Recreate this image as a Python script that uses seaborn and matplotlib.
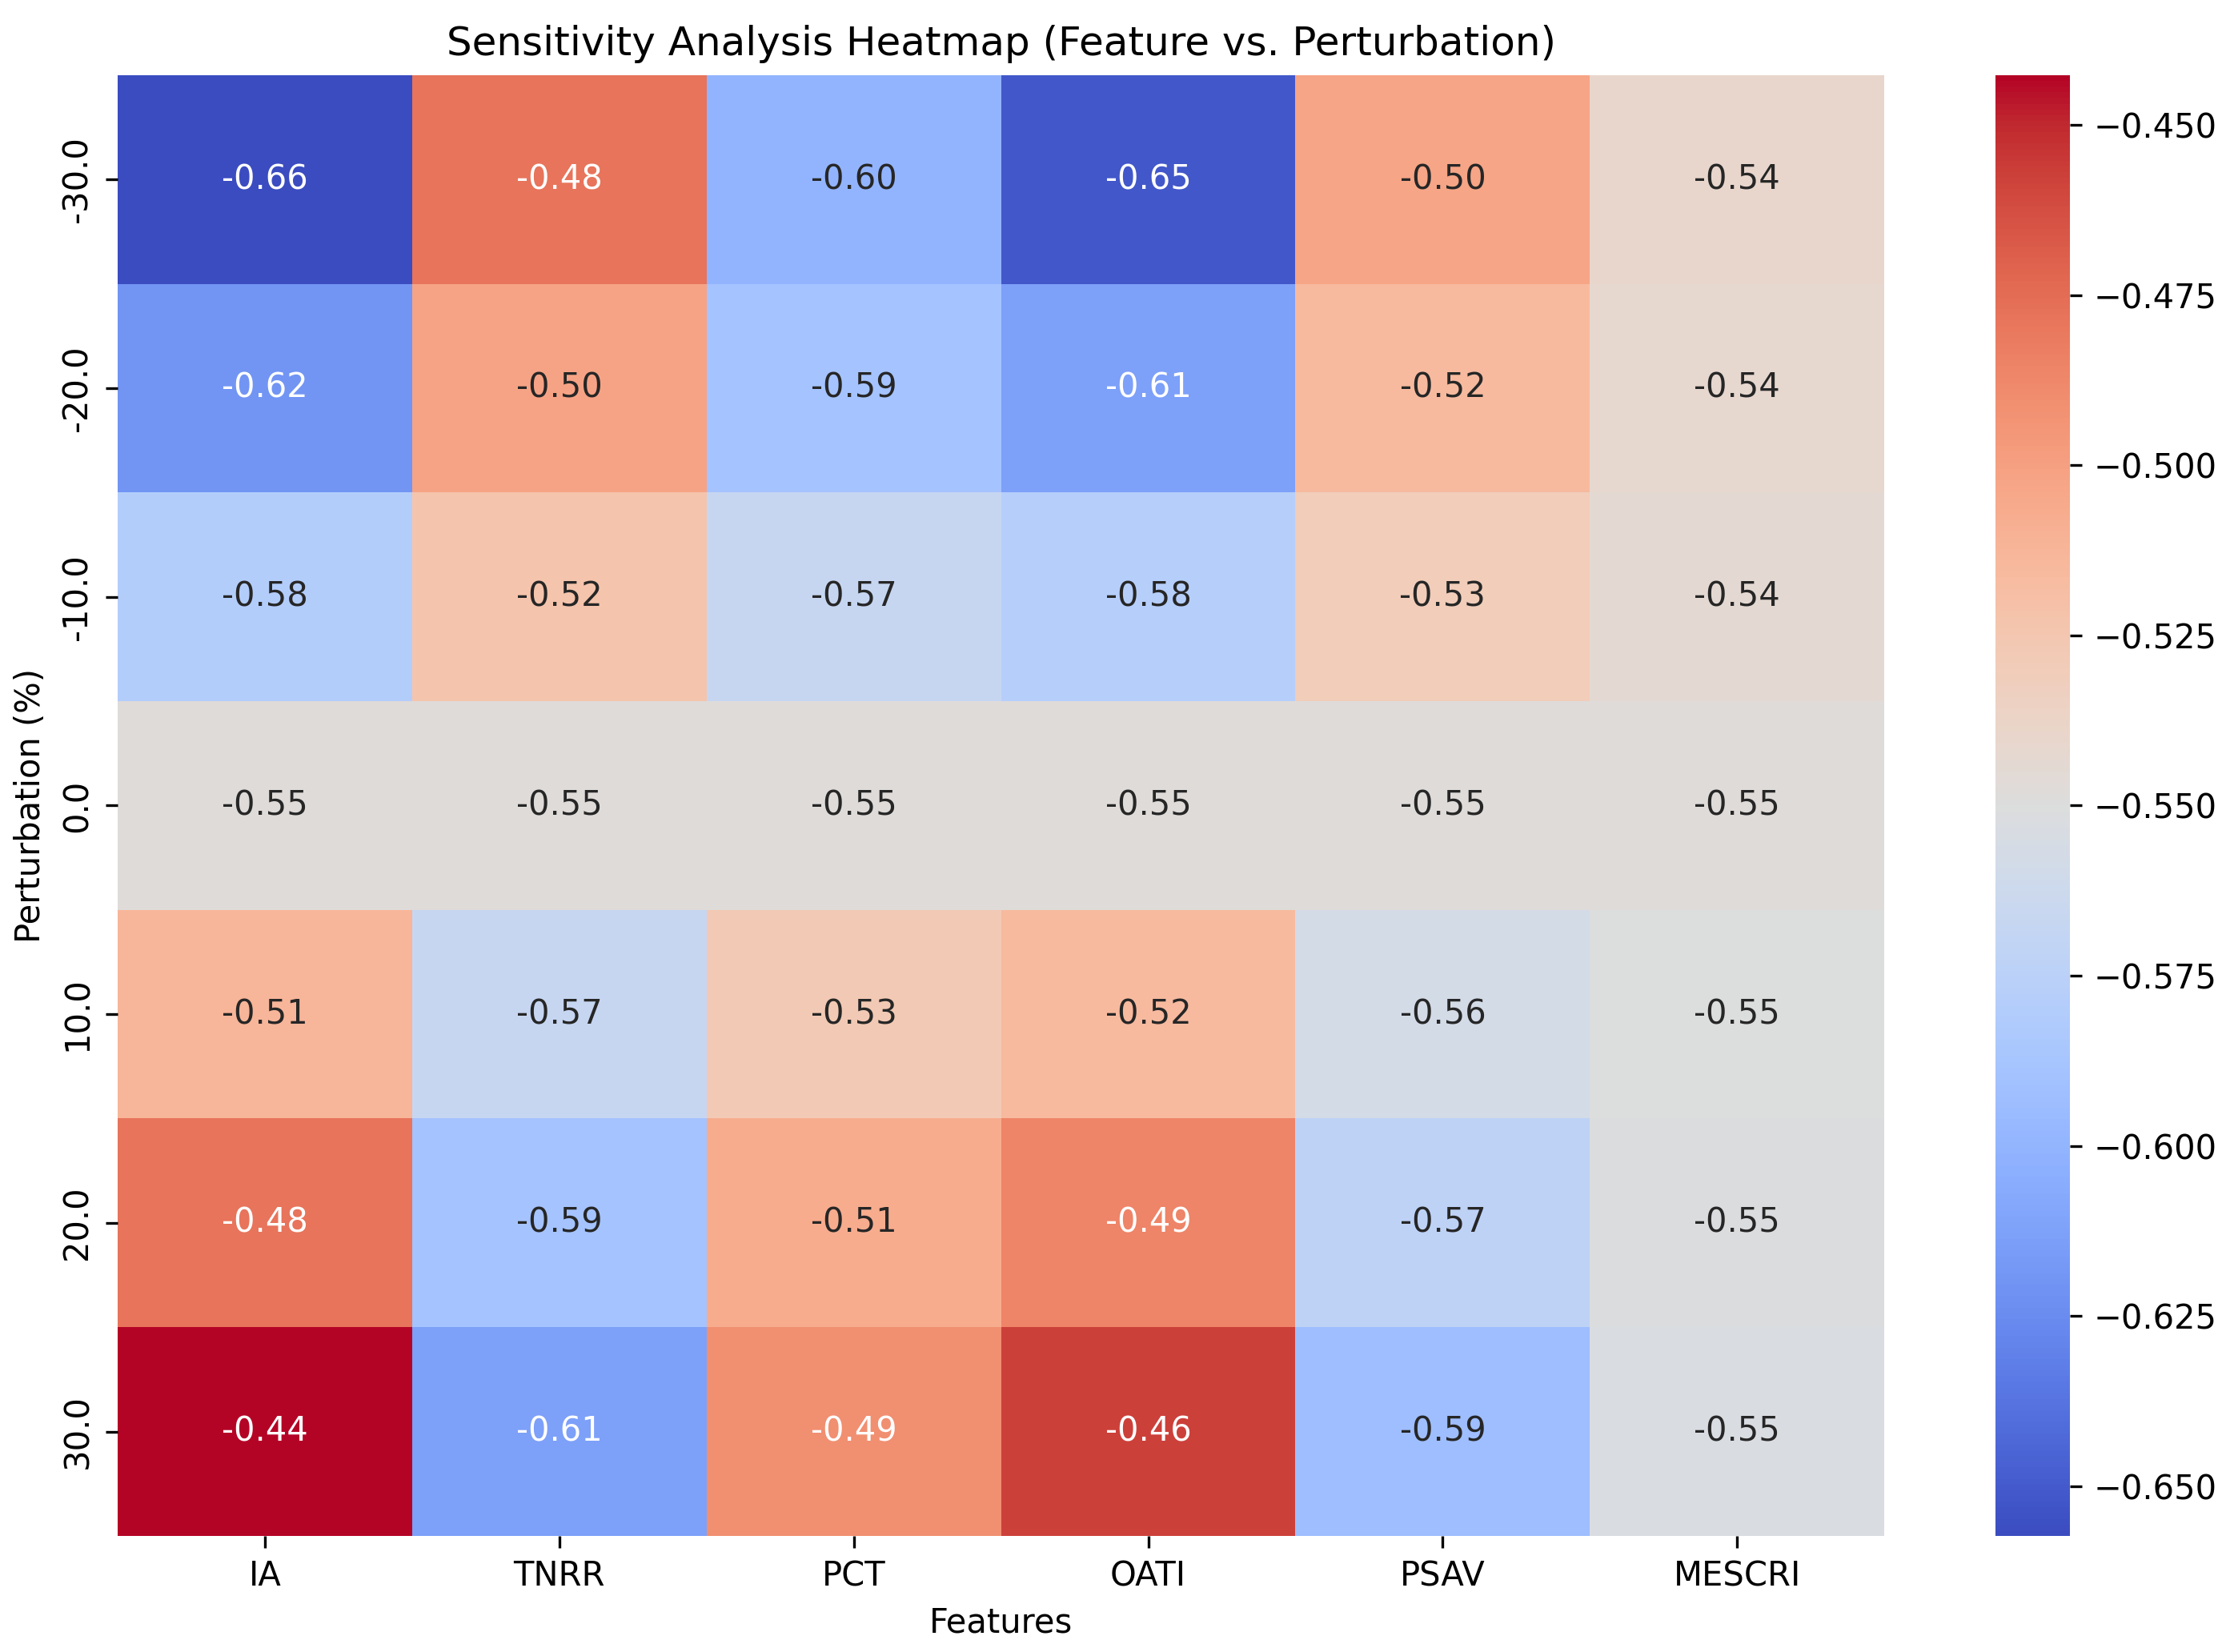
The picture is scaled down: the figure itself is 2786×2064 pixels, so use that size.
import numpy as np
import pandas as pd
import matplotlib
matplotlib.use("Agg")
import matplotlib.pyplot as plt
import seaborn as sns

features = ["IA", "TNRR", "PCT", "OATI", "PSAV", "MESCRI"]
perturbations = [-30.0, -20.0, -10.0, 0.0, 10.0, 20.0, 30.0]

# model score per feature, one list per feature (rows = perturbation levels)
ia = [-0.6573, -0.620, -0.580, -0.548, -0.513, -0.478, -0.4427]
tnrr = [-0.478, -0.502, -0.523, -0.548, -0.567, -0.589, -0.613]
pct = [-0.601, -0.589, -0.567, -0.548, -0.527, -0.507, -0.491]
oati = [-0.652, -0.613, -0.578, -0.548, -0.516, -0.486, -0.457]
psav = [-0.503, -0.516, -0.530, -0.548, -0.558, -0.573, -0.593]
mescri = [-0.540, -0.542, -0.544, -0.548, -0.550, -0.551, -0.553]

df = pd.DataFrame(
    {"IA": ia, "TNRR": tnrr, "PCT": pct, "OATI": oati, "PSAV": psav, "MESCRI": mescri},
    index=perturbations,
)[features]

dpi = 300
fig = plt.figure(figsize=(2786 / dpi, 2064 / dpi), dpi=dpi)
ax = fig.add_axes([0.0528, 0.0703, 0.7922, 0.8842])
cax = fig.add_axes([0.8948, 0.0703, 0.0334, 0.8842])

sns.heatmap(df, annot=True, fmt=".2f", cmap="coolwarm", ax=ax, cbar_ax=cax)
ax.set_title("Sensitivity Analysis Heatmap (Feature vs. Perturbation)", fontsize=12)
ax.set_xlabel("Features")
ax.set_ylabel("Perturbation (%)")

fig.savefig("out.png", dpi=dpi)
